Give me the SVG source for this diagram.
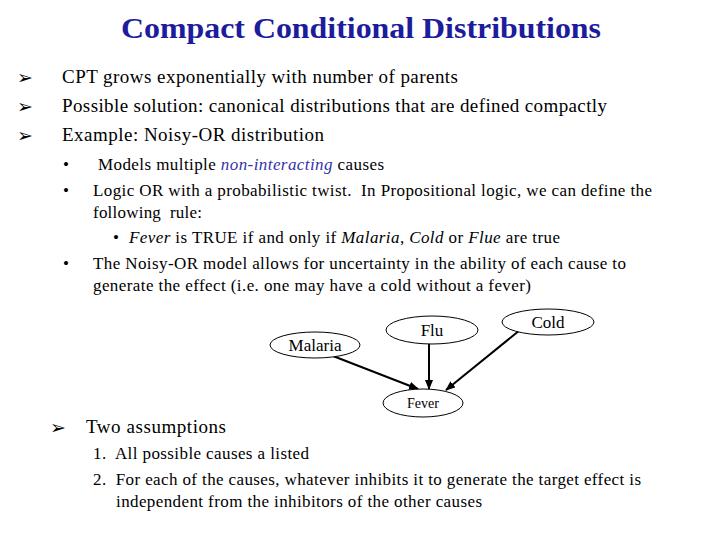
<svg xmlns="http://www.w3.org/2000/svg" width="720" height="540" viewBox="0 0 720 540">
<style>
text{font-family:"Liberation Serif",serif;fill:#000}
.b{font-size:19px}.s{font-size:17px}
.ar{font-family:"DejaVu Sans",sans-serif;font-size:19px}
ellipse{fill:#fff;stroke:#000;stroke-width:1}
.e{stroke:#000;stroke-width:2;fill:none;marker-end:url(#a)}
</style>
<defs><marker id="a" markerWidth="10" markerHeight="8" refX="9" refY="4" orient="auto" markerUnits="userSpaceOnUse"><path d="M0,0L10,4L0,8z" fill="#000"/></marker></defs>
<rect width="720" height="540" fill="#fff"/>
<text x="121" y="38" textLength="480" lengthAdjust="spacingAndGlyphs" font-size="29" font-weight="bold" style="fill:#1c1c9c">Compact Conditional Distributions</text>
<text class="ar" x="17" y="84">➢</text><text class="b" x="62" y="83" textLength="396">CPT grows exponentially with number of parents</text>
<text class="ar" x="17" y="113">➢</text><text class="b" x="62" y="112" textLength="545">Possible solution: canonical distributions that are defined compactly</text>
<text class="ar" x="17" y="142">➢</text><text class="b" x="62" y="141" textLength="262">Example: Noisy-OR distribution</text>
<text class="s" x="63" y="170">•</text><text class="s" x="98" y="170" textLength="286">Models multiple <tspan style="fill:#3333aa;font-style:italic">non-interacting</tspan> causes</text>
<text class="s" x="63" y="196">•</text><text class="s" x="93" y="196" textLength="559" xml:space="preserve">Logic OR with a probabilistic twist.  In Propositional logic, we can define the</text>
<text class="s" x="93" y="218" xml:space="preserve" textLength="109">following  rule:</text>
<text class="s" x="113" y="243">•</text><text class="s" x="129" y="243" textLength="431"><tspan font-style="italic">Fever</tspan> is TRUE if and only if <tspan font-style="italic">Malaria</tspan>, <tspan font-style="italic">Cold</tspan> or <tspan font-style="italic">Flue</tspan> are true</text>
<text class="s" x="63" y="269">•</text><text class="s" x="93" y="269" textLength="533">The Noisy-OR model allows for uncertainty in the ability of each cause to</text>
<text class="s" x="93" y="291" textLength="438">generate the effect (i.e. one may have a cold without a fever)</text>
<g id="edges">
<line class="e" x1="333" y1="356" x2="418" y2="389"/>
<line class="e" x1="429" y1="343" x2="429" y2="389"/>
<line class="e" x1="520" y1="330" x2="446" y2="390"/>
</g>
<g id="malaria"><ellipse cx="315" cy="345" rx="45" ry="13"/><text x="315" y="351" text-anchor="middle" class="s">Malaria</text></g>
<g id="flu"><ellipse cx="432" cy="330" rx="46" ry="14"/><text x="432" y="336" text-anchor="middle" class="s">Flu</text></g>
<g id="cold"><ellipse cx="548" cy="322" rx="46" ry="13"/><text x="548" y="328" text-anchor="middle" class="s">Cold</text></g>
<g id="fever"><ellipse cx="423" cy="403" rx="40" ry="14"/><text x="423" y="408" text-anchor="middle" font-size="14">Fever</text></g>
<text class="ar" x="50" y="434">➢</text><text class="b" x="86" y="433" textLength="140">Two assumptions</text>
<text class="s" x="93" y="459" xml:space="preserve" textLength="216">1.  All possible causes a listed</text>
<text class="s" x="93" y="485" xml:space="preserve" textLength="548">2.  For each of the causes, whatever inhibits it to generate the target effect is</text>
<text class="s" x="116" y="507" textLength="366">independent from the inhibitors of the other causes</text>
</svg>
